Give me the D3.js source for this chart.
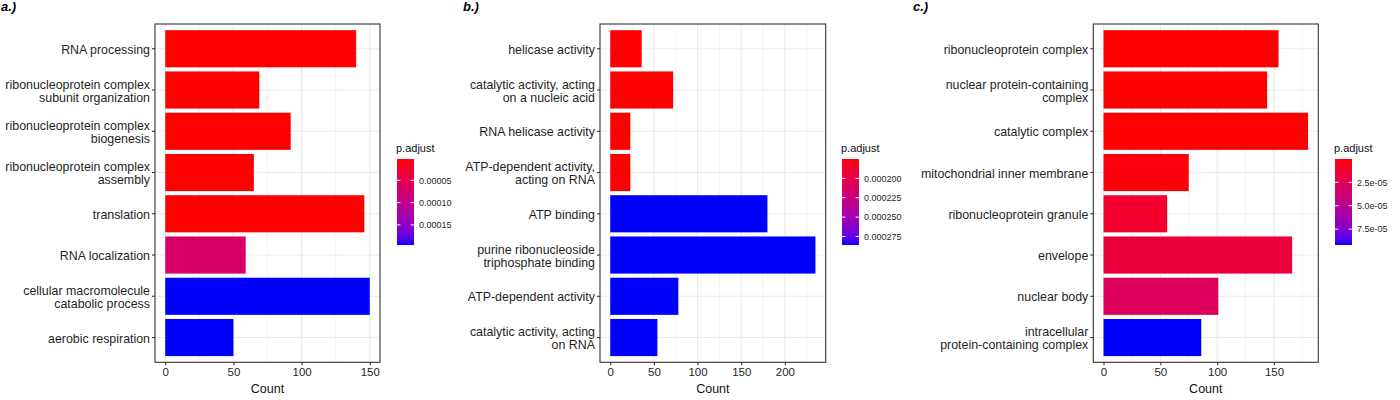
<!DOCTYPE html>
<html>
<head>
<meta charset="utf-8">
<script src="https://cdn.jsdelivr.net/npm/d3@7"></script>
<style>
  body { margin: 0; background: #ffffff; }
  svg { display: block; font-family: "Liberation Sans", Arial, sans-serif; }
</style>
</head>
<body>
<div id="chart"></div>
<script>
// ---- chart data ----

// a.) biological process
var termsA = ["RNA processing", "ribonucleoprotein complex\nsubunit organization",
    "ribonucleoprotein complex\nbiogenesis", "ribonucleoprotein complex\nassembly",
    "translation", "RNA localization", "cellular macromolecule\ncatabolic process",
    "aerobic respiration"];
var countsA = [140, 69, 92, 65, 146, 59, 150, 50];
var padjA = [2.4e-6, 2.5e-6, 2.4e-6, 2.6e-6, 2.3e-6, 6.97e-5, 1.95e-4, 1.95e-4];
var countTicksA = [0, 50, 100, 150];
var padjTicksA = [0.00005, 0.0001, 0.00015];
var padjLabelsA = ["0.00005", "0.00010", "0.00015"];

// b.) molecular function
var termsB = ["helicase activity", "catalytic activity, acting\non a nucleic acid",
    "RNA helicase activity", "ATP-dependent activity,\nacting on RNA", "ATP binding",
    "purine ribonucleoside\ntriphosphate binding", "ATP-dependent activity",
    "catalytic activity, acting\non RNA"];
var countsB = [36, 72, 23, 23, 180, 235, 78, 54];
var padjB = [1.75e-4, 1.75e-4, 1.75e-4, 1.75e-4, 2.86e-4, 2.86e-4, 2.86e-4, 2.86e-4];
var countTicksB = [0, 50, 100, 150, 200];
var padjTicksB = [0.0002, 0.000225, 0.00025, 0.000275];
var padjLabelsB = ["0.000200", "0.000225", "0.000250", "0.000275"];

// c.) cellular component
var termsC = ["ribonucleoprotein complex", "nuclear protein-containing\ncomplex",
    "catalytic complex", "mitochondrial inner membrane", "ribonucleoprotein granule",
    "envelope", "nuclear body", "intracellular\nprotein-containing complex"];
var countsC = [154, 144, 180, 75, 56, 166, 101, 86];
var padjC = [5e-10, 2e-7, 4e-7, 1.6e-6, 1.05e-5, 1.66e-5, 2.76e-5, 9.2e-5];
var countTicksC = [0, 50, 100, 150];
var padjTicksC = [2.5e-5, 5.0e-5, 7.5e-5];
var padjLabelsC = ["2.5e-05", "5.0e-05", "7.5e-05"];

// ---- layout ----
var width = 1400, height = 400;
var panel_top = 24, panel_bottom = 362.3;
var legend_top = 159, legend_bottom = 245, legend_bar_w = 17;
var label_line_height = 13;
var text_color = "#1f1f1f";

var svg = d3.select("#chart").append("svg")
    .attr("width", width).attr("height", height);

svg.append("rect").attr("width", width).attr("height", height).attr("fill", "#ffffff");

var panels = [
    { tag: "a.)", tag_x: 1, left: 155, right: 380, legend_x: 397,
      terms: termsA, counts: countsA, padj: padjA, ticks: countTicksA,
      padj_ticks: padjTicksA, padj_labels: padjLabelsA },
    { tag: "b.)", tag_x: 463, left: 600, right: 825.7, legend_x: 842,
      terms: termsB, counts: countsB, padj: padjB, ticks: countTicksB,
      padj_ticks: padjTicksB, padj_labels: padjLabelsB },
    { tag: "c.)", tag_x: 913, left: 1093.3, right: 1318.3, legend_x: 1335,
      terms: termsC, counts: countsC, padj: padjC, ticks: countTicksC,
      padj_ticks: padjTicksC, padj_labels: padjLabelsC }
];

panels.forEach(function (p, idx) {
    draw_panel(p, idx);
});

function draw_panel(p, idx) {
    var g = svg.append("g");

    // Scales - ggplot style expansion (5% continuous, 0.6 discrete)
    var max_count = d3.max(p.counts);
    var x = d3.scaleLinear()
        .domain([-0.05 * max_count, 1.05 * max_count])
        .range([p.left, p.right]);

    var y = d3.scaleBand()
        .domain(p.terms)
        .range([panel_top, panel_bottom])
        .paddingInner(0.1)
        .paddingOuter(0.15);

    var padj_extent = d3.extent(p.padj);
    var color = d3.scaleLinear()
        .domain(padj_extent)
        .range(["red", "blue"])
        .interpolate(d3.interpolateLab);

    // minor grid lines between the major ticks
    var step = p.ticks[1] - p.ticks[0];
    var minor = [];
    for (var v = p.ticks[0] + step / 2; v < x.domain()[1]; v += step) minor.push(v);

    g.selectAll(".minor").data(minor).enter().append("line")
        .attr("x1", d => x(d)).attr("x2", d => x(d))
        .attr("y1", panel_top).attr("y2", panel_bottom)
        .attr("stroke", "#ebebeb").attr("stroke-width", 0.6);

    g.selectAll(".major-x").data(p.ticks).enter().append("line")
        .attr("x1", d => x(d)).attr("x2", d => x(d))
        .attr("y1", panel_top).attr("y2", panel_bottom)
        .attr("stroke", "#ebebeb").attr("stroke-width", 1.1);

    g.selectAll(".major-y").data(p.terms).enter().append("line")
        .attr("x1", p.left).attr("x2", p.right)
        .attr("y1", d => y(d) + y.bandwidth() / 2).attr("y2", d => y(d) + y.bandwidth() / 2)
        .attr("stroke", "#ebebeb").attr("stroke-width", 1.1);

    // bars
    g.selectAll(".bar").data(p.terms).enter().append("rect")
        .attr("x", x(0))
        .attr("y", d => y(d))
        .attr("width", (d, i) => x(p.counts[i]) - x(0))
        .attr("height", y.bandwidth())
        .attr("fill", (d, i) => color(p.padj[i]));

    // panel border
    g.append("rect")
        .attr("x", p.left).attr("y", panel_top)
        .attr("width", p.right - p.left).attr("height", panel_bottom - panel_top)
        .attr("fill", "none").attr("stroke", "#333333").attr("stroke-width", 1.1);

    // x axis
    var x_axis = g.append("g")
        .attr("transform", "translate(0," + panel_bottom + ")")
        .call(d3.axisBottom(x).tickValues(p.ticks).tickSize(3).tickPadding(3));
    x_axis.select(".domain").remove();
    x_axis.selectAll("line").attr("stroke", "#333333").attr("stroke-width", 1.1);
    x_axis.selectAll("text")
        .attr("fill", text_color)
        .style("font-size", "11.5px")
        .style("font-family", "'Liberation Sans', Arial, sans-serif");

    // axis title
    g.append("text")
        .attr("x", (p.left + p.right) / 2).attr("y", 393)
        .attr("text-anchor", "middle")
        .attr("fill", "#111111")
        .style("font-size", "12.5px")
        .text("Count");

    // y axis with wrapped labels
    var y_axis = g.append("g")
        .attr("transform", "translate(" + p.left + ",0)")
        .call(d3.axisLeft(y).tickSize(3).tickPadding(2));
    y_axis.select(".domain").remove();
    y_axis.selectAll("line").attr("stroke", "#333333").attr("stroke-width", 1.1);
    y_axis.selectAll("text")
        .attr("fill", text_color)
        .attr("dy", null)
        .style("font-size", "12.4px")
        .style("font-family", "'Liberation Sans', Arial, sans-serif")
        .each(function (d) {
            var lines = d.split("\n");
            var txt = d3.select(this).text("");
            var first = 5 - (lines.length - 1) * label_line_height / 2;
            lines.forEach(function (line, k) {
                txt.append("tspan")
                    .attr("x", -5)
                    .attr("y", first + k * label_line_height)
                    .text(line);
            });
        });

    // panel tag
    svg.append("text")
        .attr("x", p.tag_x).attr("y", 10.5)
        .style("font-size", "13px")
        .style("font-weight", "bold")
        .style("font-style", "italic")
        .attr("fill", "#000000")
        .text(p.tag);

    // legend colour bar
    var grad_id = "grad" + idx;
    var grad = svg.append("defs").append("linearGradient")
        .attr("id", grad_id)
        .attr("x1", 0).attr("y1", 0).attr("x2", 0).attr("y2", 1);
    d3.range(0, 21).forEach(function (k) {
        var t = k / 20;
        grad.append("stop")
            .attr("offset", t)
            .attr("stop-color", color(padj_extent[0] + t * (padj_extent[1] - padj_extent[0])));
    });

    var legend_scale = d3.scaleLinear().domain(padj_extent).range([legend_top, legend_bottom]);

    svg.append("text")
        .attr("x", p.legend_x - 1).attr("y", 152)
        .attr("fill", "#111111")
        .style("font-size", "11px")
        .text("p.adjust");

    svg.append("rect")
        .attr("x", p.legend_x).attr("y", legend_top)
        .attr("width", legend_bar_w).attr("height", legend_bottom - legend_top)
        .attr("fill", "url(#" + grad_id + ")");

    var lg = svg.append("g");
    p.padj_ticks.forEach(function (v, k) {
        var ty = legend_scale(v);
        lg.append("line")
            .attr("x1", p.legend_x).attr("x2", p.legend_x + 3.4)
            .attr("y1", ty).attr("y2", ty)
            .attr("stroke", "#ffffff").attr("stroke-width", 1);
        lg.append("line")
            .attr("x1", p.legend_x + legend_bar_w - 3.4).attr("x2", p.legend_x + legend_bar_w)
            .attr("y1", ty).attr("y2", ty)
            .attr("stroke", "#ffffff").attr("stroke-width", 1);
        lg.append("text")
            .attr("x", p.legend_x + legend_bar_w + 5)
            .attr("y", ty + 3.3)
            .attr("fill", text_color)
            .style("font-size", "9px")
            .text(p.padj_labels[k]);
    });
}
</script>
</body>
</html>
